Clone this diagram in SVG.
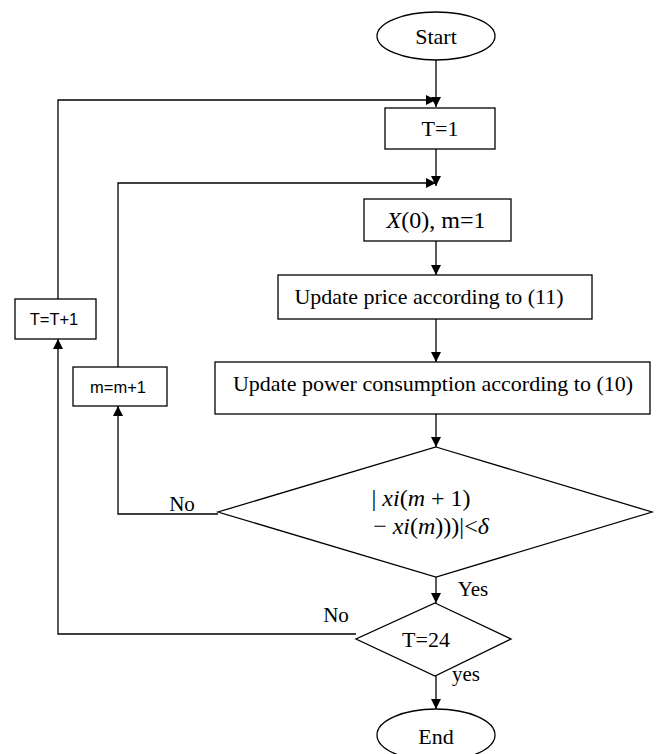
<svg xmlns="http://www.w3.org/2000/svg" width="656" height="754" viewBox="0 0 656 754">
<defs>
<marker id="ah" viewBox="0 0 10 10" refX="10" refY="5" markerWidth="10" markerHeight="10" markerUnits="userSpaceOnUse" orient="auto"><path d="M0,0 L10,5 L0,10 z" fill="#000"/></marker>
</defs>
<style>
.s{fill:#fff;stroke:#000;stroke-width:1.3}
.c{fill:none;stroke:#000;stroke-width:1.3}
.t{font-family:"Liberation Serif",serif;font-size:22px;fill:#000;text-anchor:middle}
.l{font-family:"Liberation Serif",serif;font-size:21px;fill:#000;text-anchor:middle}
.sa{font-family:"Liberation Sans",sans-serif;font-size:16.5px;fill:#000;text-anchor:middle}
.m{font-family:"Liberation Serif",serif;font-size:24px;fill:#000}
.i{font-style:italic}
</style>
<rect width="656" height="754" fill="#fff"/>
<g id="connectors">
<path class="c" d="M436,60 V107" marker-end="url(#ah)"/>
<path class="c" d="M58,299 V100 H436" marker-end="url(#ah)"/>
<path class="c" d="M436,149 V186" marker-end="url(#ah)"/>
<path class="c" d="M118,367 V183 H436" marker-end="url(#ah)"/>
<path class="c" d="M436,241 V275" marker-end="url(#ah)"/>
<path class="c" d="M436,319 V362" marker-end="url(#ah)"/>
<path class="c" d="M436,414 V447" marker-end="url(#ah)"/>
<path class="c" d="M218,514 H118 V406" marker-end="url(#ah)"/>
<path class="c" d="M436,577 V603" marker-end="url(#ah)"/>
<path class="c" d="M356,634 H58 V339" marker-end="url(#ah)"/>
<path class="c" d="M436,676 V709" marker-end="url(#ah)"/>
<text class="l" x="182" y="511">No</text>
<text class="l" x="473" y="596">Yes</text>
<text class="l" x="336" y="622">No</text>
<text class="l" x="466" y="681">yes</text>
</g>
<g id="start">
<ellipse class="s" cx="436" cy="36" rx="59" ry="24"/>
<text class="t" x="436" y="44">Start</text>
</g>
<g id="t1">
<rect class="s" x="385" y="108" width="110" height="41"/>
<text class="t" x="440" y="136">T=1</text>
</g>
<g id="x0">
<rect class="s" x="364" y="199" width="147" height="42"/>
<text class="m" x="436" y="228" text-anchor="middle" font-size="22"><tspan class="i">X</tspan>(0), m=1</text>
</g>
<g id="price">
<rect class="s" x="278" y="275" width="314" height="44"/>
<text class="t" x="429" y="304">Update price according to (11)</text>
</g>
<g id="power">
<rect class="s" x="215" y="362" width="435" height="52"/>
<text class="t" x="433" y="391">Update power consumption according to (10)</text>
</g>
<g id="cond">
<polygon class="s" points="436,447 652,512 436,577 218,512"/>
<text class="m" x="421" y="506" text-anchor="middle">| <tspan class="i">xi</tspan>(<tspan class="i">m</tspan> + 1)</text>
<text class="m" x="431" y="534" text-anchor="middle">− <tspan class="i">xi</tspan>(<tspan class="i">m</tspan>)))|&lt;<tspan class="i">δ</tspan></text>
</g>
<g id="t24">
<polygon class="s" points="435,603 511,639 435,676 356,639"/>
<text class="t" x="426" y="647">T=24</text>
</g>
<g id="end">
<ellipse class="s" cx="436" cy="735" rx="59" ry="26"/>
<text class="t" x="436" y="744">End</text>
</g>
<g id="tinc">
<rect class="s" x="15" y="299" width="81" height="40"/>
<text class="sa" x="54" y="325">T=T+1</text>
</g>
<g id="minc">
<rect class="s" x="73" y="367" width="94" height="39"/>
<text class="sa" x="118" y="393">m=m+1</text>
</g>
</svg>
